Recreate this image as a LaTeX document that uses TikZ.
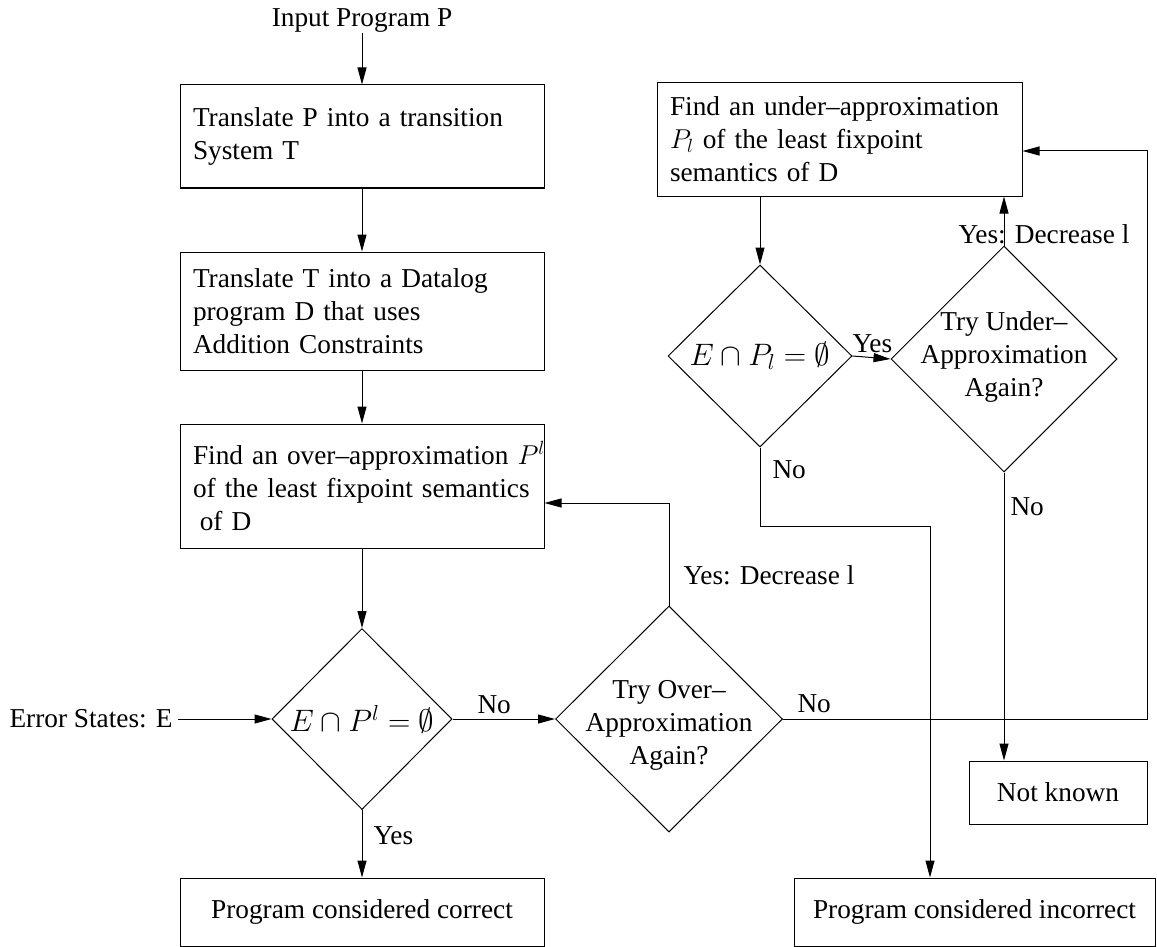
\RequirePackage{fix-cm}
\documentclass[tikz,border=0pt]{standalone}
\usepackage{fontspec}
\setmainfont{Liberation Serif}
\usetikzlibrary{shapes.geometric,arrows.meta,calc}
\begin{document}
\begin{tikzpicture}[x=1pt,y=-1pt,line width=1pt,
  font=\fontsize{27.3}{33}\selectfont,
  box/.style={draw, rectangle, inner xsep=13pt, inner ysep=0pt, align=left},
  cbox/.style={draw, rectangle, inner sep=0pt, align=center},
  dia/.style={draw, diamond, inner sep=0pt},
  dtext/.style={inner sep=0pt, align=center},
  mtext/.style={inner sep=0pt, font=\fontsize{31}{37}\selectfont},
  lbl/.style={inner sep=0pt, anchor=base west},
  arr/.style={-{Triangle[length=17pt,width=9pt]}}]
\useasboundingbox (0,0) rectangle (1157,947);

% left column
\node[inner sep=0pt, anchor=base] (inp) at (362,27) {Input Program P};
\node[box, minimum width=364pt, minimum height=103pt, text width=338pt] (b1) at (362,136.5)
  {Translate P into a transition\\System T};
\node[box, minimum width=364pt, minimum height=118pt, text width=338pt] (b2) at (362,311)
  {Translate T into a Datalog\\program D that uses\\Addition Constraints};
\node[box, minimum width=364pt, minimum height=124pt, text width=338pt] (b3) at (362,486)
  {\mbox{Find an over–approximation $P^l$}\\of the least fixpoint semantics\\\hspace{0.25em}of D};
\node[dia, minimum width=180pt, minimum height=181pt] (d1) at (362,719) {};
\node[mtext] at (d1.center) {$E\cap P^l=\emptyset$};
\node[inner xsep=5pt, inner ysep=0pt, anchor=east] (err) at (178,719) {Error States: E};
\node[cbox, minimum width=364pt, minimum height=68pt] (cor) at (362,912) {Program considered correct};

\node[dia, minimum width=227pt, minimum height=226pt] (d2) at (669,719) {};
\node[dtext] at ($(d2.center)+(0,6)$) {Try Over–\\Approximation\\Again?};

% right column
\node[box, minimum width=365pt, minimum height=113pt, text width=339pt] (b4) at (839.5,139.5)
  {Find an under–approximation\\$P_l$ of the least fixpoint\\semantics of D};
\node[dia, minimum width=184pt, minimum height=182pt] (d3) at (760,356) {};
\node[mtext] at (d3.center) {$E\cap P_l=\emptyset$};
\node[dia, minimum width=226pt, minimum height=226pt] (d4) at (1004,359) {};
\node[dtext] at ($(d4.center)+(0,-2)$) {Try Under–\\Approximation\\Again?};
\node[cbox, minimum width=178pt, minimum height=63pt] (nk) at (1058,792.5) {Not known};
\node[cbox, minimum width=361pt, minimum height=68pt] (inc) at (974.5,912) {Program considered incorrect};

\coordinate (c1) at (1147,719);
\coordinate (c2) at (930,526);

% connectors
\draw[arr] (inp) -- (b1);
\draw[arr] (b1) -- (b2);
\draw[arr] (b2) -- (b3);
\draw[arr] (b3) -- (d1.north);
\draw[arr] (err.east) -- (d1.west);
\draw[arr] (d1.east) -- (d2.west);
\draw[arr] (d1.south) -- (cor.north);
\draw[arr] (d2.north) |- (b3.east |- 0,503);
\draw[arr] (d2.east) -- (c1) |- (b4.east |- 0,151);
\draw[arr] (d3.north |- b4.south) -- (d3.north);
\draw[arr] (d3.east) -- (d4.west);
\draw[arr] (d4.north) -- (d4.north |- b4.south);
\draw[arr] (d4.south) -- (nk.north -| d4.south);
\draw[arr] (d3.south) |- (c2) -- (c2 |- inc.north);

% labels
\node[lbl] at (477,713) {No};
\node[lbl] at (373,844) {Yes};
\node[lbl] at (683,584) {Yes: Decrease l};
\node[lbl] at (797,712) {No};
\node[lbl] at (852,352) {Yes};
\node[lbl] at (772,478) {No};
\node[lbl] at (1010,515) {No};
\node[lbl] at (958,243) {Yes: Decrease l};
\end{tikzpicture}
\end{document}
